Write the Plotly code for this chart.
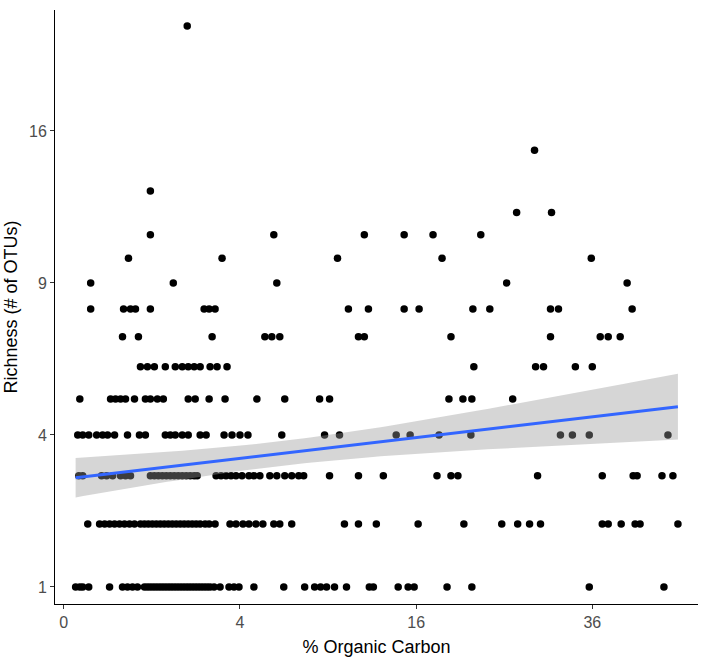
import numpy as np
import plotly.graph_objects as go

# % organic carbon values grouped by richness (# of OTUs)
oc_r1 = [0.018, 0.033, 0.046, 0.080, 0.27, 0.444, 0.523, 0.608, 0.699, 0.838, 0.901, 0.966, 1.034,
         1.104, 1.177, 1.251, 1.328, 1.408, 1.489, 1.573, 1.659, 1.748, 1.839, 1.932, 2.027, 2.125,
         2.225, 2.327, 2.431, 2.538, 2.648, 2.759, 2.911, 3.147, 3.518, 3.733, 3.955, 4.658, 6.236,
         7.477, 8.108, 8.499, 8.899, 9.446, 10.30, 12.03, 12.35, 14.41, 15.28, 15.82, 18.93, 21.46,
         35.59, 46.42]
oc_r2 = [0.074, 0.165, 0.215, 0.270, 0.332, 0.400, 0.475, 0.556, 0.644, 0.757, 0.838, 0.922, 1.011,
         1.104, 1.201, 1.302, 1.408, 1.517, 1.630, 1.748, 1.869, 1.995, 2.125, 2.258, 2.396, 2.574,
         2.722, 2.950, 3.561, 3.821, 4.137, 4.417, 4.756, 5.107, 5.684, 6.012, 6.695, 10.15, 11.19,
         12.59, 16.18, 20.63, 24.72, 26.55, 27.96, 29.29, 37.37, 38.20, 40.04, 42.07, 42.80, 48.61]
oc_r3 = [0.029, 0.046, 0.184, 0.236, 0.307, 0.415, 0.491, 0.573, 0.966, 1.057, 1.152, 1.251, 1.355,
         1.462, 1.573, 1.689, 1.808, 1.932, 2.059, 2.191, 2.293, 2.989, 3.187, 3.392, 3.604, 3.821,
         4.091, 4.417, 4.658, 4.955, 5.471, 5.847, 6.292, 6.695, 7.111, 7.416, 9.102, 11.19, 13.16,
         17.95, 19.32, 20.02, 28.93, 37.37, 41.78, 42.36, 46.12, 47.82]
oc_r4 = [0.025, 0.046, 0.080, 0.139, 0.194, 0.247, 0.332, 0.523, 0.737, 0.858, 1.328, 1.462, 1.602,
         1.808, 1.995, 2.396, 2.611, 3.310, 3.647, 4.0, 4.370, 6.124, 8.764, 9.796, 14.24, 15.46,
         18.15, 21.36, 31.79, 33.34, 35.59, 47.04]
oc_r5 = [0.033, 0.282, 0.345, 0.415, 0.491, 0.644, 0.858, 0.966, 1.128, 1.277, 1.995, 2.225, 2.722,
         3.351, 4.805, 6.292, 8.433, 9.102, 19.12, 20.53, 21.46, 25.97]
oc_r6 = [0.757, 0.901, 1.057, 1.328, 1.602, 1.808, 1.995, 2.191, 2.396, 2.759, 3.028, 3.434, 21.67,
         28.69, 29.66, 33.73, 36.0]
oc_r7 = [0.444, 0.718, 2.835, 5.210, 5.577, 6.012, 11.19, 11.64, 19.32, 30.53, 37.09, 38.20, 39.90]
oc_r8 = [0.093, 0.460, 0.573, 0.662, 0.966, 2.538, 2.722, 2.950, 10.44, 11.96, 14.93, 16.27, 21.57,
         23.39, 30.53, 31.54, 41.63]
oc_r9 = [0.093, 1.545, 5.847, 25.28, 40.90]
oc_r10 = [0.539, 3.228, 9.655, 18.44, 35.86]
oc_r11 = [0.966, 5.684, 11.64, 14.93, 17.57, 22.41]
oc_r12 = [26.43, 30.66]
oc_r13 = [0.966]
oc_r15 = [28.56]
oc_r22 = [1.963]

groups = [(1, oc_r1), (2, oc_r2), (3, oc_r3), (4, oc_r4), (5, oc_r5), (6, oc_r6), (7, oc_r7),
          (8, oc_r8), (9, oc_r9), (10, oc_r10), (11, oc_r11), (12, oc_r12), (13, oc_r13),
          (15, oc_r15), (22, oc_r22)]

x_ticks = [0, 4, 16, 36]
y_ticks = [1, 4, 9, 16]

organic_carbon = np.array([v for r, g in groups for v in g], dtype=float)
richness = np.array([r for r, g in groups for v in g], dtype=float)

# sqrt-transformed scales (as in scale_*_sqrt)
sx = np.sqrt(organic_carbon)
sy = np.sqrt(richness)

# linear model on the transformed scale with 95% CI
n = len(sx)
X = np.column_stack([np.ones(n), sx])
beta, *_ = np.linalg.lstsq(X, sy, rcond=None)
resid = sy - X @ beta
s2 = resid @ resid / (n - 2)
XtX_inv = np.linalg.inv(X.T @ X)
grid = np.linspace(sx.min(), sx.max(), 80)
G = np.column_stack([np.ones_like(grid), grid])
fit = G @ beta
se = np.sqrt(np.einsum('ij,jk,ik->i', G, XtX_inv, G) * s2)
tq = 1.968
lo = fit - tq * se
hi = fit + tq * se

fig = go.Figure()
fig.add_trace(go.Scatter(x=sx, y=sy, mode='markers',
                         marker=dict(color='black', size=7.5, line=dict(width=0)),
                         showlegend=False, hoverinfo='skip'))
fig.add_trace(go.Scatter(x=np.concatenate([grid, grid[::-1]]), y=np.concatenate([hi, lo[::-1]]),
                         fill='toself', fillcolor='rgba(153,153,153,0.4)', line=dict(width=0),
                         mode='lines', showlegend=False, hoverinfo='skip'))
fig.add_trace(go.Scatter(x=grid, y=fit, mode='lines', line=dict(color='#3366FF', width=3),
                         showlegend=False, hoverinfo='skip'))

axis_common = dict(showgrid=False, zeroline=False, showline=True, linecolor='black', linewidth=1,
                   ticks='outside', ticklen=4, tickcolor='#333333', tickwidth=1,
                   tickfont=dict(family='Liberation Sans, Arial, sans-serif', size=16, color='#4D4D4D'),
                   title_font=dict(family='Liberation Sans, Arial, sans-serif', size=18, color='black'))

fig.update_xaxes(range=[-0.10, 7.2], tickvals=np.sqrt(x_ticks), ticktext=[str(t) for t in x_ticks],
                 title_text='% Organic Carbon', title_standoff=10, **axis_common)
fig.update_yaxes(range=[0.888, 4.796], tickvals=np.sqrt(y_ticks), ticktext=[str(t) for t in y_ticks],
                 title_text='Richness (# of OTUs)', title_standoff=6, **axis_common)

fig.update_layout(width=709, height=668, margin=dict(l=52, r=11, t=10, b=64),
                  plot_bgcolor='white', paper_bgcolor='white')

fig.write_html("out.html")
